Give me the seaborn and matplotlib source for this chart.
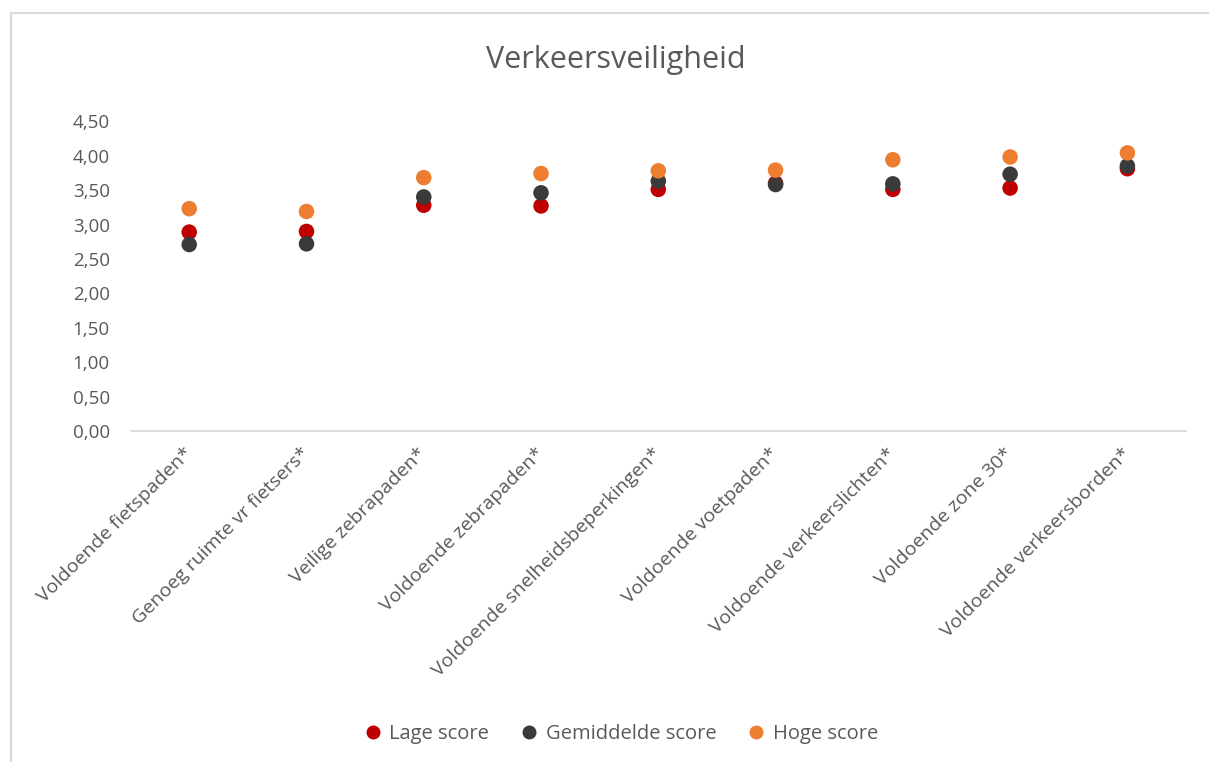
import pandas as pd
import matplotlib.pyplot as plt
import seaborn as sns
from matplotlib.patches import Rectangle

# Data
categorieen = ['Voldoende fietspaden*', 'Genoeg ruimte vr fietsers*', 'Veilige zebrapaden*',
               'Voldoende zebrapaden*', 'Voldoende snelheidsbeperkingen*', 'Voldoende voetpaden*',
               'Voldoende verkeerslichten*', 'Voldoende zone 30*', 'Voldoende verkeersborden*']
lage_score = [2.89, 2.90, 3.28, 3.27, 3.51, 3.60, 3.51, 3.53, 3.81]
gemiddelde_score = [2.71, 2.72, 3.40, 3.46, 3.63, 3.58, 3.59, 3.73, 3.85]
hoge_score = [3.23, 3.19, 3.68, 3.74, 3.78, 3.79, 3.94, 3.98, 4.04]
yticks = [0, 0.5, 1, 1.5, 2, 2.5, 3, 3.5, 4, 4.5]

data = pd.DataFrame({
    'Categorie': categorieen * 3,
    'Score': lage_score + gemiddelde_score + hoge_score,
    'Groep': ['Lage score'] * 9 + ['Gemiddelde score'] * 9 + ['Hoge score'] * 9,
})

sns.set_style('white')
plt.rcParams['font.family'] = ['Open Sans', 'DejaVu Sans']
tekst = '#595959'

fig = plt.figure(figsize=(12.09, 7.62), dpi=100)
ax = fig.add_axes([0.108, 0.434, 0.873, 0.407])

kleuren = {'Lage score': '#C00000', 'Gemiddelde score': '#3A3A3A', 'Hoge score': '#ED7D31'}
sns.scatterplot(data=data, x='Categorie', y='Score', hue='Groep', palette=kleuren,
                s=125, edgecolor='none', ax=ax, legend=True)

ax.set_xlim(-0.5, len(categorieen) - 0.5)
ax.set_ylim(0, 4.5)
ax.set_yticks(yticks)
ax.set_yticklabels([f'{v:.2f}'.replace('.', ',') for v in yticks], fontsize=13.5, color=tekst)
ax.set_xticks(range(len(categorieen)))
ax.set_xticklabels(categorieen, rotation=45, ha='right', va='center', rotation_mode='anchor',
                   fontsize=14, color=tekst)
ax.tick_params(axis='y', length=0, pad=15)
ax.tick_params(axis='x', length=0, pad=14)
ax.set_xlabel('')
ax.set_ylabel('')
for kant in ['top', 'right', 'left']:
    ax.spines[kant].set_visible(False)
ax.spines['bottom'].set_color('#D9D9D9')
ax.spines['bottom'].set_linewidth(1.3)

fig.text(0.509, 0.921, 'Verkeersveiligheid', ha='center', va='center', fontsize=22, color=tekst)

handles, labels = ax.get_legend_handles_labels()
ax.legend(handles, labels, loc='center', bbox_to_anchor=(0.509, 0.037),
          bbox_transform=fig.transFigure, ncol=3, frameon=False, fontsize=14.5,
          labelcolor=tekst, handletextpad=-0.2, columnspacing=1.0, markerscale=0.9)

fig.patches.append(Rectangle((11 / 1209, -0.01), 1.02, 1 - 13 / 762 + 0.01,
                             transform=fig.transFigure, fill=False,
                             edgecolor='#D9D9D9', linewidth=1.5))

plt.savefig('out.png', dpi=100)
